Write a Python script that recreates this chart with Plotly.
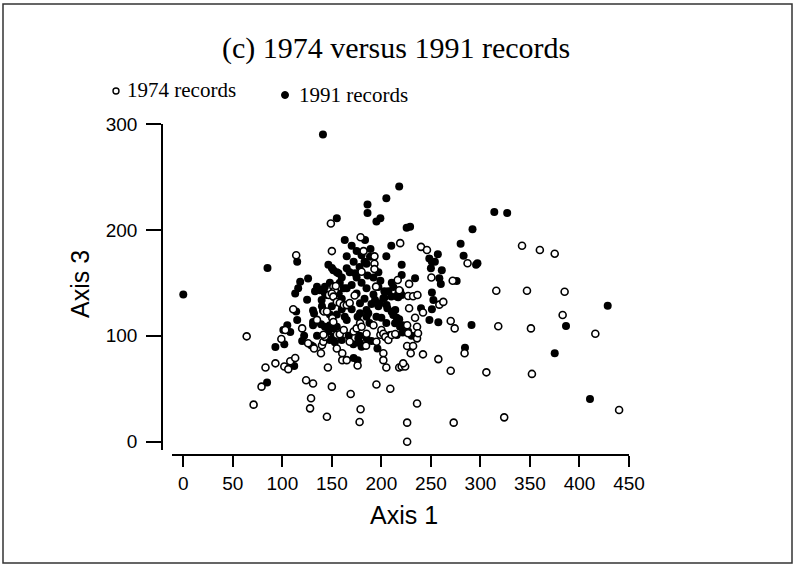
import plotly.graph_objects as go

# ---- data ----
x1974 = [64, 71, 79, 83, 93, 99, 102, 103, 106, 108, 111, 113, 114, 120, 124, 126, 129, 128, 131, 132,
         135, 139, 140, 141.4, 143, 141.5, 142, 145, 145, 146, 147, 149, 150, 150, 150.5, 151.5, 151.5, 153, 150, 151.5,
         154, 155, 155, 155, 158, 158, 160.5, 160.5, 162, 162, 165, 165, 168, 168, 169, 172, 173, 175, 176, 178.5,
         178, 179, 179, 180, 180, 182, 184.5, 185, 192, 193, 193, 193, 194.6, 195, 195, 199, 200, 202, 204, 207,
         202, 202, 205, 209, 210.4, 214, 216.5, 218, 219, 218, 220.5, 224, 222, 226, 226, 226, 226, 227, 227, 228,
         228, 229.6, 232, 232, 234, 236, 236, 236, 236.4, 237, 240, 242, 242, 246, 250.5, 257.5, 258.5, 262.5, 270, 270,
         272, 273, 274, 284, 287, 306, 316, 318, 324, 342, 347, 351, 352, 360, 375, 383, 385, 416, 440]
y1974 = [99.5, 35, 52, 70, 74, 97, 71, 105.5, 68.5, 76, 125, 79, 176, 107, 58, 93, 41, 31.5, 55, 88,
         115, 83.5, 91, 94.4, 99, 101, 123, 123, 23.6, 70, 138.5, 206, 180, 52, 116.5, 146.4, 113, 143, 140, 137,
         147, 132, 88, 101, 131, 101.4, 83.5, 77, 129, 105.5, 129, 77, 131, 94.4, 45, 104, 138, 107, 72, 112,
         18.6, 30.6, 193, 108.6, 160.5, 180, 90.7, 102, 110, 175, 168, 163, 146.4, 94.4, 54, 101, 105.5, 102, 99, 96,
         83.5, 77, 70, 50, 100.8, 101.7, 152.7, 143, 187.5, 70, 71, 71, 74, 110, 90.4, 18, 0, 137.6, 102.4, 149,
         126, 83.5, 137.3, 90.4, 117, 108.6, 97.6, 36, 138.5, 102.4, 184, 122, 82.5, 181, 155, 78, 129.4, 132, 114, 67,
         152, 18, 107, 83.5, 168.5, 65.5, 142.6, 109, 23, 185, 142.6, 107, 64, 181, 177.5, 119.6, 141.6, 102, 30]

x1991 = [0, 84.6, 85, 93, 101, 102, 105, 108, 112, 113, 114, 115, 115, 116, 118, 125, 126, 129, 131, 131,
         132, 131, 131, 133, 135, 138, 139.7, 141, 143, 143, 143, 144.8, 141, 146.5, 146.5, 148, 148, 148, 150, 150,
         151.5, 151.5, 153, 155, 155, 163, 171.7, 172, 176, 176.7, 178.4, 178.4, 178.4, 180, 183.5, 185, 185, 185, 186, 186,
         186.8, 189, 193.6, 195, 198.6, 199, 202, 205, 205, 205.3, 207, 208.7, 210, 210.4, 212, 213.8, 214, 215.5, 215.5, 218,
         218, 218.8, 220.5, 220.5, 217, 220.5, 217, 221.5, 221.5, 227, 225.5, 229, 230.6, 234, 240, 248.4, 251, 254, 250, 248.5,
         251, 252.5, 251, 257, 257.5, 258.5, 260, 261, 276, 280, 283, 284.4, 291, 292, 295.6, 297, 314, 327, 375, 386.4,
         410.6, 428.5,
         180, 183, 178, 185, 186, 188.5, 210.5, 212, 207, 210, 215.5, 219, 197, 192, 199, 197, 203, 192, 203, 197, 206,
         155, 160, 148, 158, 162, 150, 160, 148, 163, 157, 140, 151.5, 156.6, 165, 173.4,
         170, 175, 165, 172, 168, 175, 180, 170, 185, 175, 165, 190, 183, 170, 176, 165, 160, 155, 188, 195, 200, 205,
         178, 190, 196, 167, 160, 139, 135, 122, 120]
y1991 = [139, 56, 164, 89.5, 105.5, 92, 110, 103.5, 71.5, 140, 123, 115, 170, 145, 151, 134, 154, 91, 90, 124,
         121, 113, 110, 142, 146.4, 143, 133.8, 124, 146.4, 140, 108.6, 138.5, 290, 167, 104, 110, 107, 96, 164, 110,
         107, 99, 94, 108.6, 211, 190.5, 92, 79, 77, 97.6, 93, 130.7, 121.3, 89.7, 190.5, 97.6, 124.4, 118, 224, 216,
         121.3, 182, 133.8, 208, 130.7, 211, 135.4, 230, 175, 129, 97.6, 100.8, 185, 122.8, 119.6, 111.8, 124.4, 117, 100.8, 115.6,
         241, 108.6, 167, 157.4, 140, 138.5, 136.4, 110, 103, 104, 202, 203, 100, 154.3, 126, 173, 170, 170, 163.7, 115,
         125, 133.8, 141, 177, 112.7, 154.3, 149, 162, 151.8, 187, 175.6, 88.8, 110.2, 200.6, 167, 168.5, 217, 216, 83.5, 109.3,
         40.3, 128.4,
         176, 170, 165, 168, 157, 174.7, 150, 146, 142, 137, 137, 142, 160, 155, 152, 146, 142, 139, 136, 128, 126,
         160, 155, 150, 150, 145, 128, 125, 120, 118, 140, 128, 162, 159, 163.7, 159,
         185, 180, 175, 170, 160, 155, 150, 148, 145, 140, 145, 130, 135, 125, 118, 115, 135, 120, 112, 118, 117, 112,
         100, 95, 88, 100, 96, 111, 100, 100, 95]

x_ticks = [0, 50, 100, 150, 200, 250, 300, 350, 400, 450]
y_ticks = [0, 100, 200, 300]

title_text = "(c) 1974 versus 1991 records"
legend_names = ["1974 records", "1991 records"]

# ---- layout geometry ----
W, H = 795, 566
ML, MR, MT, MB = 162, 166, 124, 111
PW, PH = W - ML - MR, H - MT - MB


def px(xpix):
    return (xpix - ML) / PW


def py(ypix):
    return (H - MB - ypix) / PH


sans = "Liberation Sans, Arial, Helvetica, sans-serif"
serif = "Liberation Serif, Times New Roman, serif"

fig = go.Figure()
fig.add_trace(go.Scatter(x=x1991, y=y1991, mode="markers", name=legend_names[1],
                         marker=dict(symbol="circle", size=8, color="black",
                                     line=dict(width=0)),
                         showlegend=False))
fig.add_trace(go.Scatter(x=x1974, y=y1974, mode="markers", name=legend_names[0],
                         marker=dict(symbol="circle", size=7, color="white",
                                     line=dict(width=1.6, color="black")),
                         showlegend=False))

fig.update_layout(
    width=W, height=H,
    margin=dict(l=ML, r=MR, t=MT, b=MB, pad=0),
    paper_bgcolor="white", plot_bgcolor="white",
    xaxis=dict(domain=[px(172), 1], range=[-11.4, 450], anchor="free", position=0,
               showline=True, linecolor="black", linewidth=1.5, showgrid=False, zeroline=False,
               ticks="outside", ticklen=11, tickwidth=1.5, tickcolor="black",
               tickvals=x_ticks, ticktext=[str(v) for v in x_ticks],
               tickfont=dict(family=sans, size=19, color="black")),
    yaxis=dict(domain=[py(450), 1], range=[-7.84, 300], anchor="free", position=0,
               showline=True, linecolor="black", linewidth=1.5, showgrid=False, zeroline=False,
               ticks="outside", ticklen=15, tickwidth=1.5, tickcolor="black",
               ticklabelstandoff=5,
               tickvals=y_ticks, ticktext=[str(v) for v in y_ticks],
               tickfont=dict(family=sans, size=19, color="black")),
    annotations=[
        dict(text=title_text, x=px(396), y=py(48), xref="paper", yref="paper",
             showarrow=False, xanchor="center", yanchor="middle",
             font=dict(family=serif, size=30, color="black")),
        dict(text=legend_names[0], x=px(125), y=py(90), xref="paper", yref="paper",
             showarrow=False, xanchor="left", yanchor="middle",
             font=dict(family=serif, size=21, color="black")),
        dict(text=legend_names[1], x=px(297), y=py(95), xref="paper", yref="paper",
             showarrow=False, xanchor="left", yanchor="middle",
             font=dict(family=serif, size=21, color="black")),
        dict(text="Axis 1", x=px(404), y=py(515), xref="paper", yref="paper",
             showarrow=False, xanchor="center", yanchor="middle",
             font=dict(family=sans, size=25, color="black")),
        dict(text="Axis 3", x=px(80), y=py(284), xref="paper", yref="paper",
             showarrow=False, xanchor="center", yanchor="middle", textangle=-90,
             font=dict(family=sans, size=25, color="black")),
    ],
    shapes=[
        dict(type="rect", xref="paper", yref="paper",
             x0=px(3), x1=px(792), y0=py(563), y1=py(4),
             line=dict(color="#333333", width=1.5), fillcolor="rgba(0,0,0,0)"),
        dict(type="circle", xref="paper", yref="paper", xsizemode="pixel", ysizemode="pixel",
             xanchor=px(116), yanchor=py(91), x0=-3, x1=3, y0=-3, y1=3,
             line=dict(color="black", width=1.4), fillcolor="white"),
        dict(type="circle", xref="paper", yref="paper", xsizemode="pixel", ysizemode="pixel",
             xanchor=px(285), yanchor=py(95), x0=-3.5, x1=3.5, y0=-3.5, y1=3.5,
             line=dict(color="black", width=1), fillcolor="black"),
    ],
)

fig.write_html("out.html", config={"displayModeBar": False},
               post_script="document.body.style.margin='0';document.body.style.overflow='hidden';")
